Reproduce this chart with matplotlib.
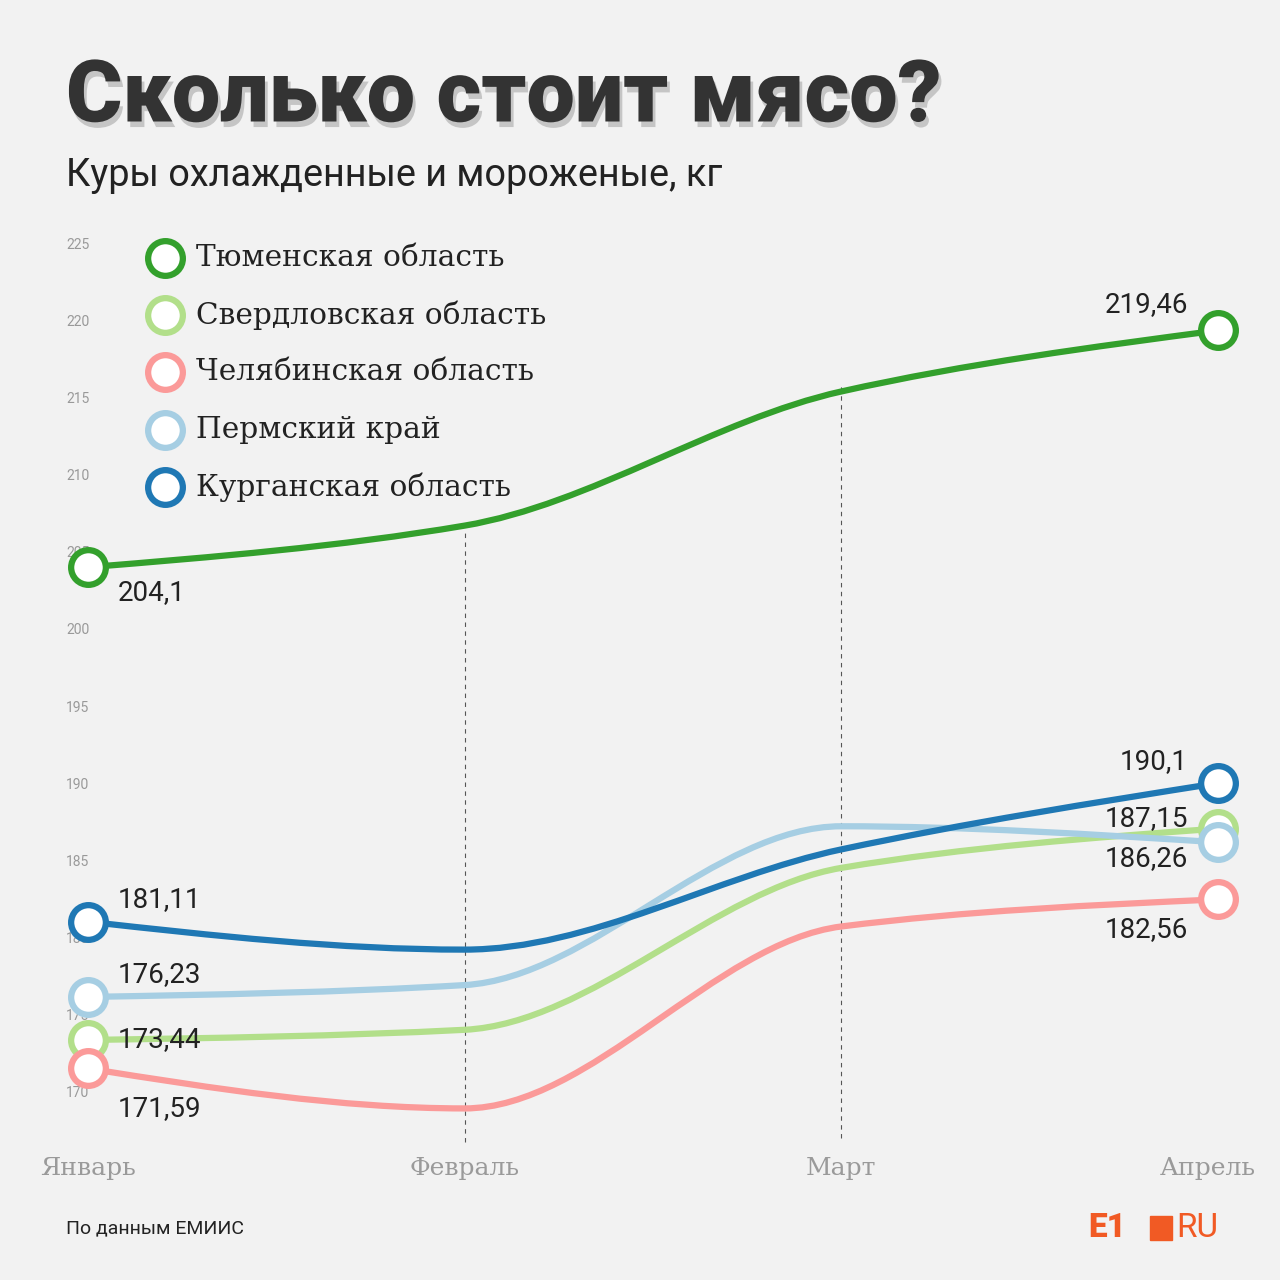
import numpy as np
import matplotlib.pyplot as plt
import matplotlib.patheffects as pe
from matplotlib.path import Path
from matplotlib.patches import PathPatch, Rectangle

months = ["Январь", "Февраль", "Март", "Апрель"]
regions = ["Тюменская область", "Свердловская область", "Челябинская область",
           "Пермский край", "Курганская область"]
tyumen = [204.1, 206.8, 215.5, 219.46]
sverdl = [173.44, 174.1, 184.6, 187.15]
chelyab = [171.59, 169.0, 180.8, 182.56]
perm = [176.23, 177.0, 187.3, 186.26]
kurgan = [181.11, 179.3, 185.8, 190.1]
series = [tyumen, sverdl, chelyab, perm, kurgan]
colors = ["#33a02c", "#b2df8a", "#fb9a99", "#a6cee3", "#1f78b4"]
yticks = list(range(170, 226, 5))

# label offsets in pixels (first point, last point)
first_off = [(30, -25), (30, 0), (30, -40), (30, 22), (30, 22)]
last_off = [(-30, 26), (-30, 10), (-30, -30), (-30, -16), (-30, 22)]


def monotone_path(xs, ys):
    xs = np.asarray(xs, float); ys = np.asarray(ys, float)
    h = np.diff(xs); d = np.diff(ys) / h
    m = np.zeros_like(ys)
    for i in range(1, len(ys) - 1):
        if d[i - 1] * d[i] > 0:
            w1 = 2 * h[i] + h[i - 1]; w2 = h[i] + 2 * h[i - 1]
            m[i] = (w1 + w2) / (w1 / d[i - 1] + w2 / d[i])
    m[0] = (3 * d[0] - m[1]) / 2
    m[-1] = (3 * d[-1] - m[-2]) / 2
    verts = [(xs[0], ys[0])]; codes = [Path.MOVETO]
    for i in range(len(xs) - 1):
        verts += [(xs[i] + h[i] / 3, ys[i] + m[i] * h[i] / 3),
                  (xs[i + 1] - h[i] / 3, ys[i + 1] - m[i + 1] * h[i] / 3),
                  (xs[i + 1], ys[i + 1])]
        codes += [Path.CURVE4] * 3
    return Path(verts, codes)


fig = plt.figure(figsize=(12.8, 12.8), dpi=100, facecolor="#f2f2f2")
ax = fig.add_axes([0, 0, 1, 1])
ax.set_facecolor("#f2f2f2")
ppx = (1218 - 88) / 3
ppy = (1093 - 245) / 55
ax.set_xlim(-88 / ppx, 3 + 62 / ppx)
ax.set_ylim(170 - 187 / ppy, 170 + 1093 / ppy)
ax.axis("off")

x = np.arange(len(months))

# dashed guides
ax.plot([1, 1], [166.8, 206.5], ls=(0, (4, 4)), color="#555", lw=0.8, zorder=1)
ax.plot([2, 2], [167.1, 216.0], ls=(0, (4, 4)), color="#555", lw=0.8, zorder=1)

for v in yticks:
    ax.text(-10 / ppx, v, str(v), ha="center", va="center", fontsize=10,
            color="#999", family="Roboto", zorder=1)

for i, m in enumerate(months):
    ax.text(x[i] - (10 / ppx if i == 3 else 0), 170 - 75 / ppy, m, ha="center", va="center",
            fontsize=18, color="#9a9a9a", family="DejaVu Serif")

for vals, col, fo, lo in zip(series, colors, first_off, last_off):
    ax.add_patch(PathPatch(monotone_path(x, vals), fill=False, ec=col, lw=4.5,
                           capstyle="round", zorder=3))
    ax.plot([x[0], x[-1]], [vals[0], vals[-1]], "o", ms=25, mfc="white", mec=col,
            mew=4.5, zorder=4)
    for xi, v, off, ha in [(x[0], vals[0], fo, "left"), (x[-1], vals[-1], lo, "right")]:
        lbl = f"{v:g}".replace(".", ",")
        ax.annotate(lbl, (xi, v), xytext=off, textcoords="offset pixels", ha=ha,
                    va="center", fontsize=20, color="#222", family="Roboto", zorder=5)

# legend
for i, (name, col) in enumerate(zip(regions, colors)):
    yp = 1280 - (258 + 57.2 * i)
    fig.add_artist(plt.Line2D([165 / 1280], [yp / 1280], marker="o", ms=25, mfc="white",
                              mec=col, mew=4.5, transform=fig.transFigure))
    fig.text(196 / 1280, yp / 1280, name, ha="left", va="center", fontsize=21.3,
             color="#222", family="DejaVu Serif")

# titles
fig.text(66 / 1280, (1280 - 98) / 1280, "Сколько стоит мясо?", ha="left",
         va="center", fontsize=62, fontweight="black", family="Roboto", color="#333333",
         path_effects=[pe.withSimplePatchShadow(offset=(2, -4), shadow_rgbFace="#999999",
                                                alpha=0.5)])
fig.text(66 / 1280, (1280 - 176) / 1280, "Куры охлажденные и мороженые, кг", ha="left",
         va="center", fontsize=27.3, family="Roboto", color="#222")
fig.text(66 / 1280, (1280 - 1228) / 1280, "По данным ЕМИИС", ha="left", va="center",
         fontsize=14, family="Roboto", color="#222")

# logo
fig.text(1088 / 1280, (1280 - 1228) / 1280, "E1", ha="left", va="center", fontsize=24,
         fontweight="black", family="Roboto", color="#f15a24")
fig.add_artist(Rectangle((1150 / 1280, (1280 - 1240) / 1280), 22 / 1280, 24 / 1280,
                         color="#f15a24", transform=fig.transFigure))
fig.text(1176 / 1280, (1280 - 1228) / 1280, "RU", ha="left", va="center", fontsize=24,
         family="Roboto", color="#f15a24")

fig.savefig("out.png", dpi=100, facecolor=fig.get_facecolor())
